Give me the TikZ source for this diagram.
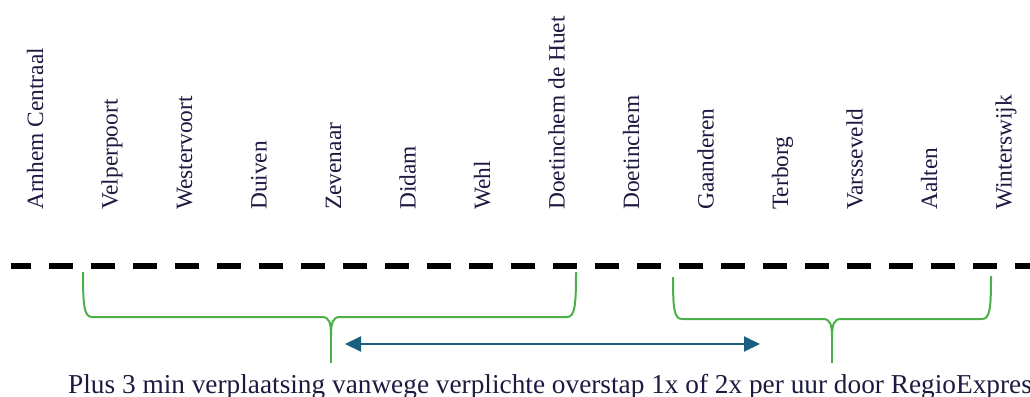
\documentclass[tikz,border=0pt]{standalone}
\usepackage{fontspec}
\setmainfont{Liberation Serif}
\usetikzlibrary{arrows.meta}
\definecolor{navytext}{HTML}{1C1A40}
\definecolor{bracegreen}{HTML}{4DAF4A}
\definecolor{arrowblue}{HTML}{1A5E80}
\tikzset{
  station/.style={rotate=90, anchor=base west, inner sep=0pt, text=navytext,
    font=\fontsize{23.4}{26}\selectfont},
  caption/.style={anchor=base west, inner sep=0pt, text=navytext,
    font=\fontsize{27.3}{30}\selectfont},
  trackline/.style={line width=5.5pt, dash pattern=on 24pt off 18pt, dash phase=4pt, black},
  bracepath/.style={line width=2pt, bracegreen},
  transfer/.style={line width=2pt, arrowblue, {Triangle[length=16pt,width=15pt]}-{Triangle[length=16pt,width=15pt]}}
}
\begin{document}
\begin{tikzpicture}[x=1pt,y=-1pt]
\useasboundingbox (0,0) rectangle (1030,396);
% stations
\foreach \name [count=\i from 0] in {Arnhem Centraal,Velperpoort,Westervoort,Duiven,Zevenaar,Didam,Wehl,Doetinchem de Huet,Doetinchem,Gaanderen,Terborg,Varsseveld,Aalten,Winterswijk}{
  \node[station] (st\i) at ({43+74.5*\i},210) {\name};
}
% track
\coordinate (trackA) at (11,266);
\coordinate (trackB) at (1040,266);
\draw[trackline] (trackA) -- (trackB);
% brace 1
\coordinate (b1l) at (83,272);
\coordinate (b1r) at (576,272);
\coordinate (b1tip) at (331,363);
\draw[bracepath] (b1l) .. controls (83,305) and (84,317) .. (92,317) -- (322,317)
  .. controls (329,317) and (331,322) .. (331,336)
  .. controls (331,322) and (333,317) .. (340,317) -- (567,317)
  .. controls (575,317) and (576,305) .. (b1r);
\draw[bracepath] (331,334) -- (b1tip);
% brace 2
\coordinate (b2l) at (673,277);
\coordinate (b2r) at (991,276);
\coordinate (b2tip) at (832,363);
\draw[bracepath] (b2l) .. controls (673,308) and (674,319) .. (682,319) -- (823,319)
  .. controls (830,319) and (832,324) .. (832,338)
  .. controls (832,324) and (834,319) .. (841,319) -- (982,319)
  .. controls (990,319) and (991,308) .. (b2r);
\draw[bracepath] (832,336) -- (b2tip);
% arrow
\coordinate (arrL) at (345,344);
\coordinate (arrR) at (760,344);
\draw[transfer] (arrL) -- (arrR);
% caption
\node[caption] (cap) at (68,393) {Plus 3 min verplaatsing vanwege verplichte overstap 1x of 2x per uur door RegioExpres};
\end{tikzpicture}
\end{document}
